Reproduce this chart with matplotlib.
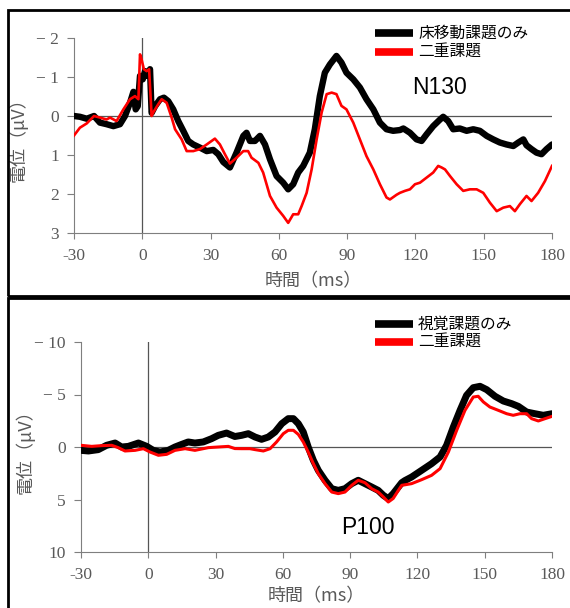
import matplotlib.pyplot as plt
from matplotlib.patches import Rectangle
from matplotlib.lines import Line2D

# top panel: 床移動課題
t_top_black = [-30, -27.4, -24.4, -21.2, -18.6, -15.7, -12.7, -9.8, -7.6, -5.4, -3.9, -2.9, -2.0, -1.0,
               0.2, 1.2, 2.2, 3.4, 4.1, 5.6, 7.8, 9.5, 11.4, 13.6, 15.8, 18.0, 20.2, 22.4, 25.3, 28.3,
               31.2, 33.4, 35.6, 38.5, 41.4, 44.4, 45.8, 47.3, 49.5, 51.7, 53.9, 56.1, 59.0, 61.9, 64.1,
               66.3, 68.5, 70.7, 73.6, 75.8, 78.0, 80.2, 82.4, 85.3, 87.5, 89.7, 92.7, 95.6, 98.5, 101.5,
               104.4, 107.3, 110.2, 113.2, 114.7, 117.6, 120.5, 122.7, 124.9, 127.8, 130.8, 132.2, 134.4,
               136.6, 139.5, 142.5, 145.4, 148.3, 151.3, 154.2, 157.1, 160.0, 163.0, 165.2, 167.4, 168.8,
               171.0, 173.2, 175.4, 177.6, 180.0]
v_top_black = [0.0, 0.02, 0.07, 0.0, 0.17, 0.21, 0.26, 0.21, 0.0, -0.34, -0.62, -0.17, -0.25, -1.03,
               -0.94, -1.15, -1.03, -1.2, -0.08, -0.25, -0.43, -0.47, -0.38, -0.17, 0.13, 0.38, 0.64, 0.73, 0.81, 0.9,
               0.87, 0.98, 1.18, 1.32, 0.94, 0.51, 0.43, 0.64, 0.64, 0.51, 0.73, 1.11, 1.54, 1.71, 1.88,
               1.75, 1.45, 1.28, 0.94, 0.34, -0.51, -1.11, -1.32, -1.54, -1.37, -1.11, -0.94, -0.73, -0.43, -0.17,
               0.17, 0.34, 0.38, 0.36, 0.32, 0.43, 0.6, 0.64, 0.47, 0.26, 0.09, 0.02, 0.13,
               0.34, 0.32, 0.38, 0.34, 0.38, 0.51, 0.6, 0.68, 0.73, 0.77, 0.68, 0.6, 0.75,
               0.85, 0.94, 0.98, 0.85, 0.73]

t_top_red = [-30, -27.4, -24.4, -21.2, -18.6, -15.7, -14.2, -11.3, -8.3, -5.4, -3.2, -1.7, -1.0, -0.3,
             0.7, 1.9, 3.0, 4.1, 4.8, 7.0, 8.5, 10.7, 12.9, 14.4, 17.3, 19.5, 22.4, 25.3, 28.3, 31.9,
             34.1, 36.3, 38.5, 41.4, 44.4, 46.5, 48.0, 51.0, 53.1, 56.1, 59.0, 61.9, 64.1, 66.3, 68.5,
             70.0, 72.2, 74.4, 76.6, 78.8, 81.0, 83.2, 85.3, 87.5, 89.7, 92.7, 95.6, 98.5, 101.5, 104.4,
             107.3, 108.8, 111.7, 113.2, 115.4, 117.6, 119.8, 122.0, 124.9, 127.8, 130.0, 131.5, 133.0,
             135.2, 138.1, 141.0, 143.9, 146.9, 149.8, 152.7, 155.7, 158.6, 161.5, 163.7, 165.9, 168.8,
             171.0, 173.9, 176.9, 180.0]
v_top_red = [0.5, 0.3, 0.19, 0.0, 0.04, 0.09, 0.04, 0.13, -0.17, -0.43, -0.51, -0.43, -1.58, -1.45,
             -1.2, -1.15, -1.2, 0.0, -0.09, -0.3, -0.43, -0.34, 0.04, 0.34, 0.6, 0.9, 0.9, 0.85, 0.73, 0.58,
             0.73, 0.98, 1.22, 1.07, 0.9, 0.9, 1.07, 1.2, 1.45, 2.05, 2.35, 2.56, 2.74, 2.52, 2.52,
             2.31, 1.97, 1.37, 0.6, -0.09, -0.56, -0.6, -0.56, -0.26, -0.17, 0.17, 0.6, 1.03, 1.37, 1.75,
             2.09, 2.14, 2.02, 1.97, 1.92, 1.88, 1.75, 1.71, 1.58, 1.45, 1.28, 1.32, 1.37,
             1.54, 1.75, 1.92, 1.88, 1.88, 1.97, 2.22, 2.44, 2.35, 2.31, 2.44, 2.26, 2.05,
             2.18, 1.97, 1.67, 1.28]

# bottom panel: 視覚課題
t_bot_black = [-30, -26.7, -22.3, -18.6, -14.8, -11.9, -8.9, -4.4, -0.7, 2.2, 5.2, 8.9, 11.9, 14.9,
               17.8, 20.8, 24.5, 28.2, 31.2, 34.9, 38.6, 41.6, 44.6, 47.6, 50.5, 53.5, 56.5, 59.5, 62.4,
               64.7, 66.9, 69.1, 71.3, 73.6, 75.8, 78.8, 81.8, 84.7, 87.7, 90.7, 93.6, 96.6, 99.6, 102.5,
               104.8, 107.0, 109.2, 111.5, 113.0, 114.4, 117.4, 121.9, 126.3, 130.1, 133.0, 136.0, 139.0,
               141.9, 144.9, 147.9, 150.9, 154.6, 158.3, 162.0, 165.0, 168.7, 172.4, 176.1, 180.0]
v_bot_black = [0.32, 0.38, 0.25, -0.16, -0.38, 0.0, -0.06, -0.38, -0.06, 0.32, 0.48, 0.32, 0.0, -0.25,
               -0.48, -0.38, -0.48, -0.79, -1.11, -1.33, -1.0, -1.11, -1.27, -0.95, -0.73, -0.95, -1.43, -2.22, -2.7,
               -2.7, -2.22, -1.43, 0.0, 1.27, 2.22, 3.17, 3.97, 4.13, 3.97, 3.49, 3.17, 3.49, 3.81, 4.13,
               4.6, 4.92, 4.44, 3.81, 3.4, 3.2, 2.86, 2.22, 1.59, 0.95, -0.16, -1.9, -3.49,
               -4.92, -5.65, -5.78, -5.46, -4.83, -4.38, -4.13, -3.87, -3.33, -3.17, -3.02, -3.17]

t_bot_red = [-30, -25.2, -20.8, -16.3, -13.4, -10.4, -5.9, -2.2, 0.8, 4.5, 8.2, 11.9, 16.4, 20.8,
             26.8, 31.2, 35.7, 38.6, 41.6, 45.3, 47.6, 51.3, 54.3, 57.2, 60.2, 62.4, 64.7, 66.9, 69.1,
             71.3, 73.6, 75.8, 78.8, 81.8, 84.7, 87.7, 90.7, 93.6, 96.6, 99.6, 102.5, 104.8, 107.0,
             109.2, 111.5, 113.0, 114.4, 117.4, 121.9, 126.3, 130.1, 133.8, 137.5, 141.2, 144.9, 147.1,
             149.4, 152.3, 156.1, 159.8, 162.7, 165.7, 168.7, 170.9, 173.9, 176.9, 180.0]
v_bot_red = [-0.16, -0.06, -0.13, -0.16, 0.06, 0.38, 0.32, 0.16, 0.48, 0.79, 0.7, 0.32, 0.16, 0.32,
             0.06, 0.0, -0.06, 0.15, 0.16, 0.16, 0.25, 0.38, 0.16, -0.48, -1.27, -1.59, -1.59, -1.2, -0.48,
             0.48, 1.59, 2.54, 3.49, 4.29, 4.44, 4.29, 3.65, 3.17, 3.4, 3.97, 4.29, 4.76, 5.24,
             4.9, 4.13, 3.65, 3.6, 3.49, 3.11, 2.7, 2.06, 0.48, -1.59, -3.49, -4.76, -4.83,
             -4.29, -3.81, -3.49, -3.17, -3.02, -3.17, -3.17, -2.7, -2.48, -2.7, -2.92]

xticks = [-30, 0, 30, 60, 90, 120, 150, 180]
top_yticks = [-2, -1, 0, 1, 2, 3]
top_yticklabels = ['− 2', '− 1', '0', '1', '2', '3']
bot_yticks = [-10, -5, 0, 5, 10]
bot_yticklabels = ['− 10', '− 5', '0', '5', '10']

top_labels = ['床移動課題のみ', '二重課題']
bot_labels = ['視覚課題のみ', '二重課題']
colors = ['black', '#ff0000']

plt.rcParams['font.family'] = ['Noto Sans CJK JP', 'DejaVu Sans']

W, H = 570, 608
fig = plt.figure(figsize=(W / 100, H / 100), dpi=100)

def fx(px):
    return px / W

def fy(py):
    return (H - py) / H

# panel borders
fig.patches.append(Rectangle((fx(8), fy(296)), 1.0, 286 / H, transform=fig.transFigure,
                             fill=False, ec='black', lw=2, clip_on=False))
fig.patches.append(Rectangle((fx(8), -0.02), 1.0, fy(298) + 0.02, transform=fig.transFigure,
                             fill=False, ec='black', lw=2, clip_on=False))

ax1 = fig.add_axes([fx(74), fy(233), fx(552) - fx(74), fy(38) - fy(233)])
ax2 = fig.add_axes([fx(81), fy(552), fx(552) - fx(81), fy(342) - fy(552)])

gray = '#595959'

def style(ax, yt, ytl, ylim, xpad):
    ax.set_xlim(-30, 180)
    ax.set_ylim(ylim[1], ylim[0])
    ax.set_xticks(xticks)
    ax.set_xticklabels([str(x) for x in xticks], family='Liberation Serif', fontsize=12.5, color=gray)
    ax.set_yticks(yt)
    ax.set_yticklabels(ytl, family='Liberation Serif', fontsize=12.5, color=gray)
    for s in ['top', 'right']:
        ax.spines[s].set_visible(False)
    for s in ['left', 'bottom']:
        ax.spines[s].set_color('#7f7f7f')
        ax.spines[s].set_linewidth(0.8)
    ax.tick_params(axis='x', direction='out', length=4, width=0.8, color='#7f7f7f', pad=7)
    ax.tick_params(axis='y', direction='out', length=5, width=0.8, color='#7f7f7f', pad=6)
    ax.axhline(0, color='#555555', lw=0.9, zorder=1)
    ax.axvline(0, color='#555555', lw=0.9, zorder=1)
    ax.set_xlabel('時間（ms）', fontsize=13, color=gray, labelpad=xpad)
    ax.set_ylabel('電位（μV）', fontsize=13, color=gray)
    ax.yaxis.set_label_coords(-0.098, 0.5)

style(ax1, top_yticks, top_yticklabels, (-2, 3), 6)
style(ax2, bot_yticks, bot_yticklabels, (-10, 10), 3)

ax1.plot(t_top_black, v_top_black, color=colors[0], lw=4.6, solid_joinstyle='round',
         solid_capstyle='round', zorder=3)
ax1.plot(t_top_red, v_top_red, color=colors[1], lw=1.9, solid_joinstyle='round', zorder=4)
ax2.plot(t_bot_black, v_bot_black, color=colors[0], lw=5, solid_joinstyle='round',
         solid_capstyle='round', zorder=3)
ax2.plot(t_bot_red, v_bot_red, color=colors[1], lw=2.2, solid_joinstyle='round', zorder=4)

# legends drawn by hand so the swatches sit where the reference has them
for labels, rows in [(top_labels, (33, 52)), (bot_labels, (324, 342))]:
    for lab, col, py in zip(labels, colors, rows):
        fig.add_artist(Line2D([fx(375), fx(413)], [fy(py), fy(py)], color=col, lw=5.5,
                              solid_capstyle='butt', transform=fig.transFigure))
        fig.text(fx(418), fy(py), lab, fontsize=11.3, ha='left', va='center', color='black')

fig.text(fx(440), fy(88), 'N130', fontsize=16.5, ha='center', va='center', family='Liberation Sans')
fig.text(fx(368), fy(528), 'P100', fontsize=16.5, ha='center', va='center', family='Liberation Sans')

fig.savefig('out.png', dpi=100)
